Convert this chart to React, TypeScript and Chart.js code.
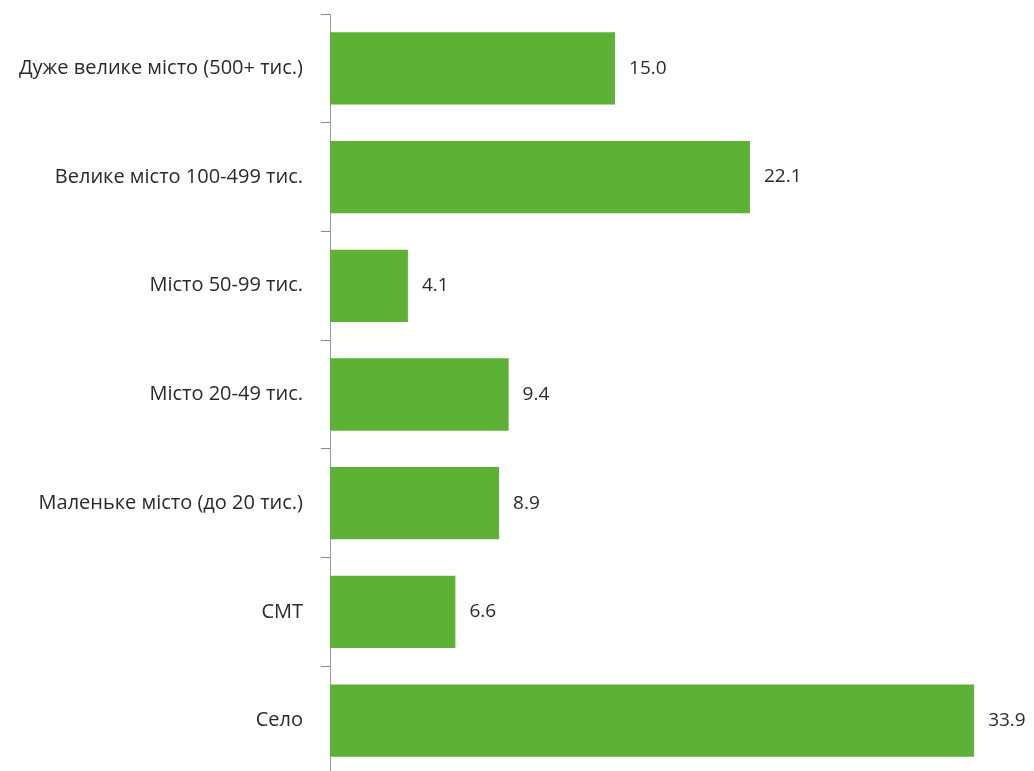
import React, { useEffect, useRef } from "react";
import { Chart, registerables } from "chart.js";

Chart.register(...registerables);

const categories: string[] = [
  "Дуже велике місто (500+ тис.)",
  "Велике місто 100-499 тис.",
  "Місто 50-99 тис.",
  "Місто 20-49 тис.",
  "Маленьке місто (до 20 тис.)",
  "СМТ",
  "Село",
];
const values: number[] = [15.0, 22.1, 4.1, 9.4, 8.9, 6.6, 33.9];

const FONT = "'Open Sans', Lato, sans-serif";

const valueLabels = {
  id: "valueLabels",
  afterDatasetsDraw(chart: any) {
    const ctx = chart.ctx;
    const meta = chart.getDatasetMeta(0);
    ctx.save();
    ctx.fillStyle = "#2a2a2a";
    ctx.font = `19px ${FONT}`;
    ctx.textAlign = "left";
    ctx.textBaseline = "middle";
    meta.data.forEach((bar: any, i: number) => {
      const v = chart.data.datasets[0].data[i] as number;
      ctx.fillText(v.toFixed(1), bar.x + 14, bar.y);
    });
    ctx.restore();
  },
};

export default function App() {
  const ref = useRef<HTMLCanvasElement | null>(null);
  useEffect(() => {
    if (!ref.current) return;
    const chart = new Chart(ref.current, {
      type: "bar",
      data: {
        labels: categories,
        datasets: [
          {
            data: values,
            backgroundColor: "#5db235",
            borderWidth: 0,
            categoryPercentage: 1,
            barPercentage: 0.665,
          },
        ],
      },
      options: {
        indexAxis: "y",
        responsive: false,
        animation: false,
        layout: { padding: { top: 14, bottom: 0, left: 0, right: 0 } },
        plugins: { legend: { display: false }, tooltip: { enabled: false } },
        scales: {
          x: {
            display: false,
            min: 0,
            max: 37.05,
          },
          y: {
            afterFit(scale: any) {
              scale.width = 330;
              scale.paddingTop = 0;
              scale.paddingBottom = 0;
            },
            grid: {
              drawOnChartArea: false,
              drawTicks: true,
              tickLength: 9,
              color: "#8a8a8a",
              offset: true,
            },
            border: { display: true, color: "#9a9a9a", width: 1 },
            ticks: {
              color: "#2a2a2a",
              padding: 18,
              font: { family: FONT, size: 20 },
            },
          },
        },
      },
      plugins: [valueLabels],
    });
    return () => chart.destroy();
  }, []);
  return (
    <div style={{ position: "fixed", left: 0, top: 0, width: 1034, height: 771, overflow: "hidden", background: "#fff" }}>
      <canvas ref={ref} width={1034} height={775} />
    </div>
  );
}
